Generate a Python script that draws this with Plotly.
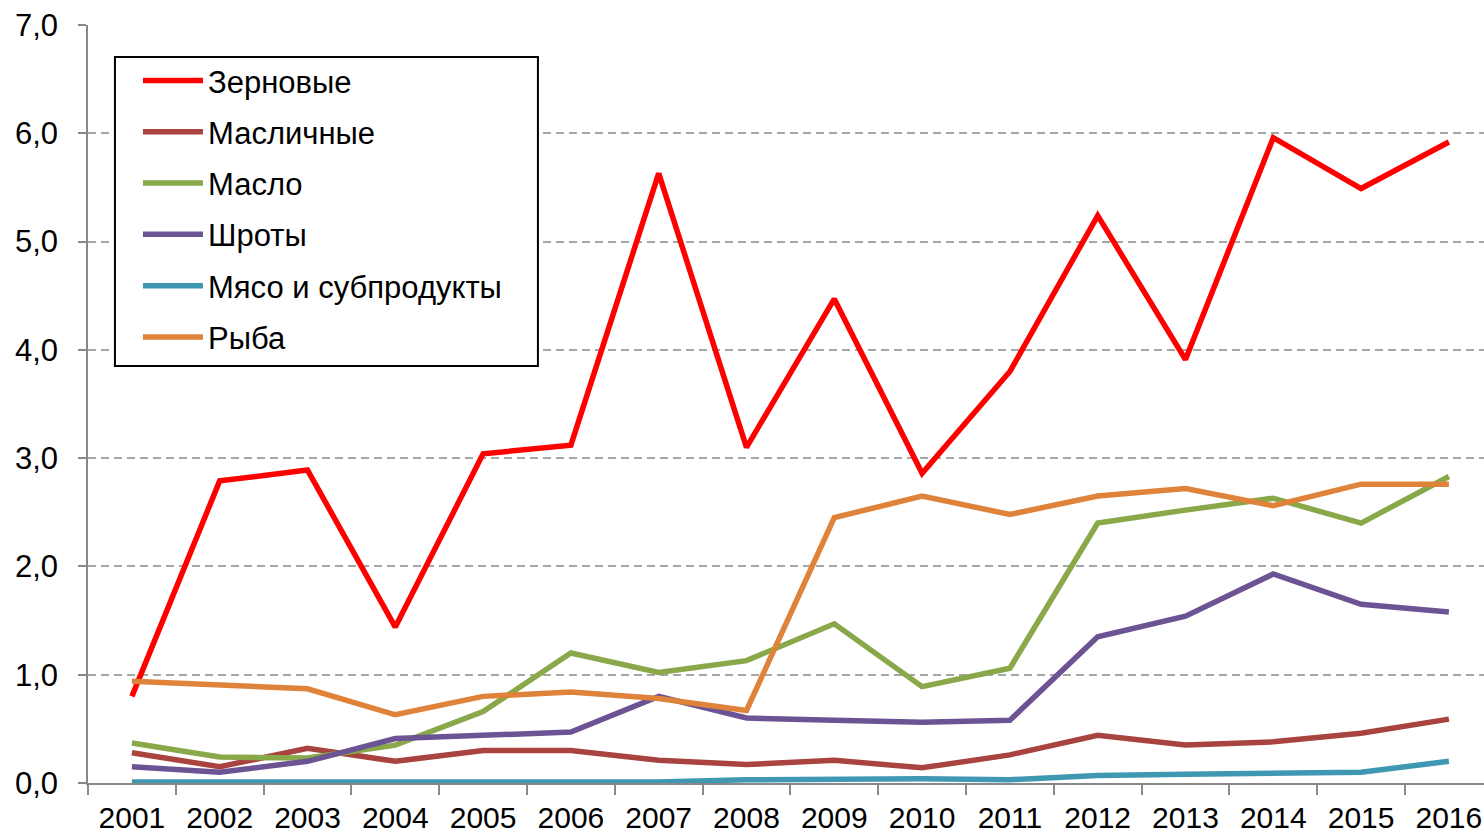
import plotly.graph_objects as go

years = [str(y) for y in range(2001, 2017)]

zernovye = [0.80, 2.79, 2.89, 1.44, 3.04, 3.12, 5.63, 3.10, 4.47, 2.86, 3.80, 5.24, 3.91, 5.96, 5.49, 5.92]
maslichnye = [0.28, 0.15, 0.32, 0.20, 0.30, 0.30, 0.21, 0.17, 0.21, 0.14, 0.26, 0.44, 0.35, 0.38, 0.46, 0.59]
maslo = [0.37, 0.24, 0.23, 0.35, 0.66, 1.20, 1.02, 1.13, 1.47, 0.89, 1.06, 2.40, 2.52, 2.63, 2.40, 2.83]
shroty = [0.15, 0.10, 0.20, 0.41, 0.44, 0.47, 0.80, 0.60, 0.58, 0.56, 0.58, 1.35, 1.54, 1.93, 1.65, 1.58]
myaso = [0.01, 0.01, 0.01, 0.01, 0.01, 0.01, 0.01, 0.03, 0.04, 0.04, 0.03, 0.07, 0.08, 0.09, 0.10, 0.20]
ryba = [0.94, 0.90, 0.87, 0.63, 0.80, 0.84, 0.78, 0.67, 2.45, 2.65, 2.48, 2.65, 2.72, 2.56, 2.76, 2.76]

series = [
    ("Зерновые", zernovye, "#FF0000"),
    ("Масличные", maslichnye, "#A9433F"),
    ("Масло", maslo, "#88A84A"),
    ("Шроты", shroty, "#6C5494"),
    ("Мясо и субпродукты", myaso, "#3F98B1"),
    ("Рыба", ryba, "#DF823A"),
]

FONT = "Liberation Sans, Arial, sans-serif"

fig = go.Figure()
for i, (name, vals, color) in enumerate(series):
    fig.add_trace(go.Scatter(x=years, y=vals, name=name, mode="lines",
                             legendgroup=str(i),
                             line=dict(color=color, width=5.5)))

# legend frame drawn as a shape so the entries can sit inside with padding
fig.add_shape(type="rect", xref="paper", yref="paper",
              x0=0.0193, x1=0.3223, y0=0.5501, y1=0.9578,
              line=dict(color="black", width=2), fillcolor="white", layer="above")

fig.update_layout(
    width=1484, height=835,
    margin=dict(l=88, r=0, t=25, b=52),
    plot_bgcolor="white", paper_bgcolor="white",
    separators=", ",
    font=dict(family=FONT, size=31, color="black"),
    showlegend=True,
    legend=dict(x=0.0358, y=0.962, xanchor="left", yanchor="top",
                borderwidth=0, bgcolor="rgba(0,0,0,0)",
                tracegroupgap=8, itemwidth=60,
                font=dict(size=31, family=FONT),
                traceorder="grouped"),
)
fig.update_xaxes(type="category", range=[-0.5, 15.4], showgrid=False,
                 showline=True, linecolor="#888888", linewidth=1.5,
                 ticks="outside", tickson="boundaries", ticklen=10,
                 tickcolor="#888888", tickwidth=1.5,
                 ticklabelstandoff=7, automargin=False,
                 tickfont=dict(size=30))
fig.update_yaxes(range=[0, 7], dtick=1, tickformat=".1f",
                 showgrid=True, gridcolor="#A6A6A6", gridwidth=1.5,
                 griddash="8px,5px",
                 showline=True, linecolor="#888888", linewidth=1.5,
                 ticks="outside", ticklen=8, tickcolor="#888888", tickwidth=1.5,
                 ticklabelstandoff=14, zeroline=False, automargin=False,
                 ticklabeloverflow="allow",
                 tickfont=dict(size=31))

# drop the default 8px page margin so the figure fills the window
fig.write_html("out.html", config={"displayModeBar": False},
               post_script="document.body.style.margin='0px';")
